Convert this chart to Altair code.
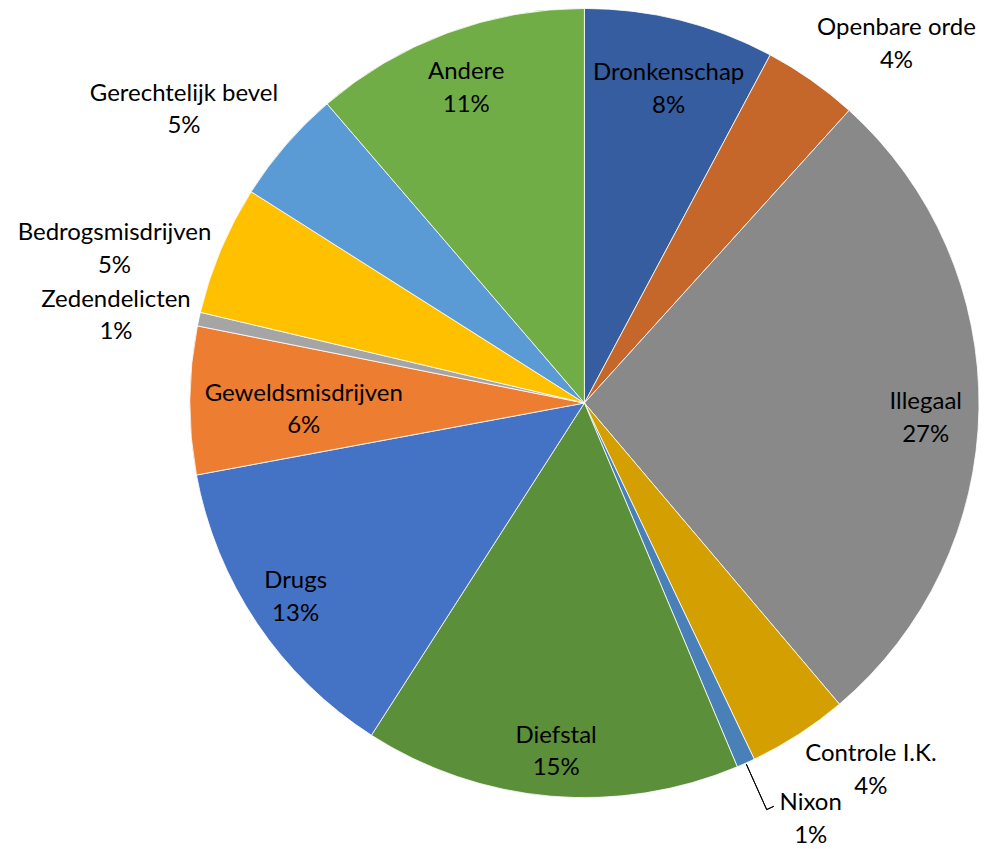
import altair as alt
import pandas as pd

# --- data ---
categories = ["Dronkenschap", "Openbare orde", "Illegaal", "Controle I.K.", "Nixon",
              "Diefstal", "Drugs", "Geweldsmisdrijven", "Zedendelicten",
              "Bedrogsmisdrijven", "Gerechtelijk bevel", "Andere"]
values = [7.8, 3.9, 27.1, 4.1, 0.75, 15.4, 13.0, 6.05, 0.56, 5.3, 4.7, 11.3]
colors = ["#355DA0", "#C5672A", "#898989", "#D49F00", "#4A80B8", "#5B8F3A",
          "#4472C4", "#ED7D31", "#A5A5A5", "#FFC000", "#5B9BD5", "#70AD47"]

# --- label layout (radius in px, angular nudge in degrees from slice middle) ---
label_radius = [325, 476, 342, 466, 474, 350, 348, 281, 477, 495, 497, 337]
label_nudge_deg = [1.0, 5.9, 1.6, -5.1, -4.4, -0.3, 0.1, -1.7, -1.7, -4.7, -4.6, -0.2]
leader_for = "Nixon"

total = sum(values)
rows = []
cum = 0.0
for i, (c, v) in enumerate(zip(categories, values)):
    mid = cum + v / 2
    cum += v
    rows.append({
        "idx": i,
        "category": c,
        "value": v,
        "mid": mid,
        "label": f"{c}\n{round(v / total * 100):.0f}%",
        "label_theta": mid + label_nudge_deg[i] / 360 * total,
        "label_r": label_radius[i],
    })
df = pd.DataFrame(rows)

theta_scale = alt.Scale(domain=[0, total])

base = alt.Chart(df)

pie = base.mark_arc(outerRadius=395, stroke="white", strokeWidth=0.8).encode(
    theta=alt.Theta("value:Q", stack=True, scale=theta_scale),
    color=alt.Color("category:N", scale=alt.Scale(domain=categories, range=colors), legend=None),
    order=alt.Order("idx:Q"),
)

labels = base.mark_text(
    font="Lato", fontSize=24, color="#000000", lineBreak="\n", lineHeight=33,
    align="center", baseline="middle", dy=-16,
).encode(
    theta=alt.Theta("label_theta:Q", scale=theta_scale),
    radius=alt.Radius("label_r:Q", scale=None),
    text="label:N",
)

# leader line for the small Nixon slice: a radial segment plus a short tail
lead_df = df[df["category"] == leader_for].copy()
lead_df["t_tail"] = lead_df["mid"] - 1.0 / 360 * total
lead_base = alt.Chart(lead_df)
leader_radial = lead_base.mark_arc(
    radius=396, radius2=446, stroke="black", strokeWidth=1, fillOpacity=0
).encode(
    theta=alt.Theta("mid:Q", scale=theta_scale),
    theta2="mid:Q",
)
leader_tail = lead_base.mark_arc(
    radius=446, radius2=446, stroke="black", strokeWidth=1, fillOpacity=0
).encode(
    theta=alt.Theta("t_tail:Q", scale=theta_scale),
    theta2="mid:Q",
)

chart = alt.layer(pie, leader_radial, leader_tail, labels).properties(
    width=790, height=790,
    autosize="none",
    padding={"left": 182, "top": 0, "right": 0, "bottom": 50},
).configure_view(stroke=None)

chart.save("out.html", embed_options={"renderer": "svg", "actions": False})
